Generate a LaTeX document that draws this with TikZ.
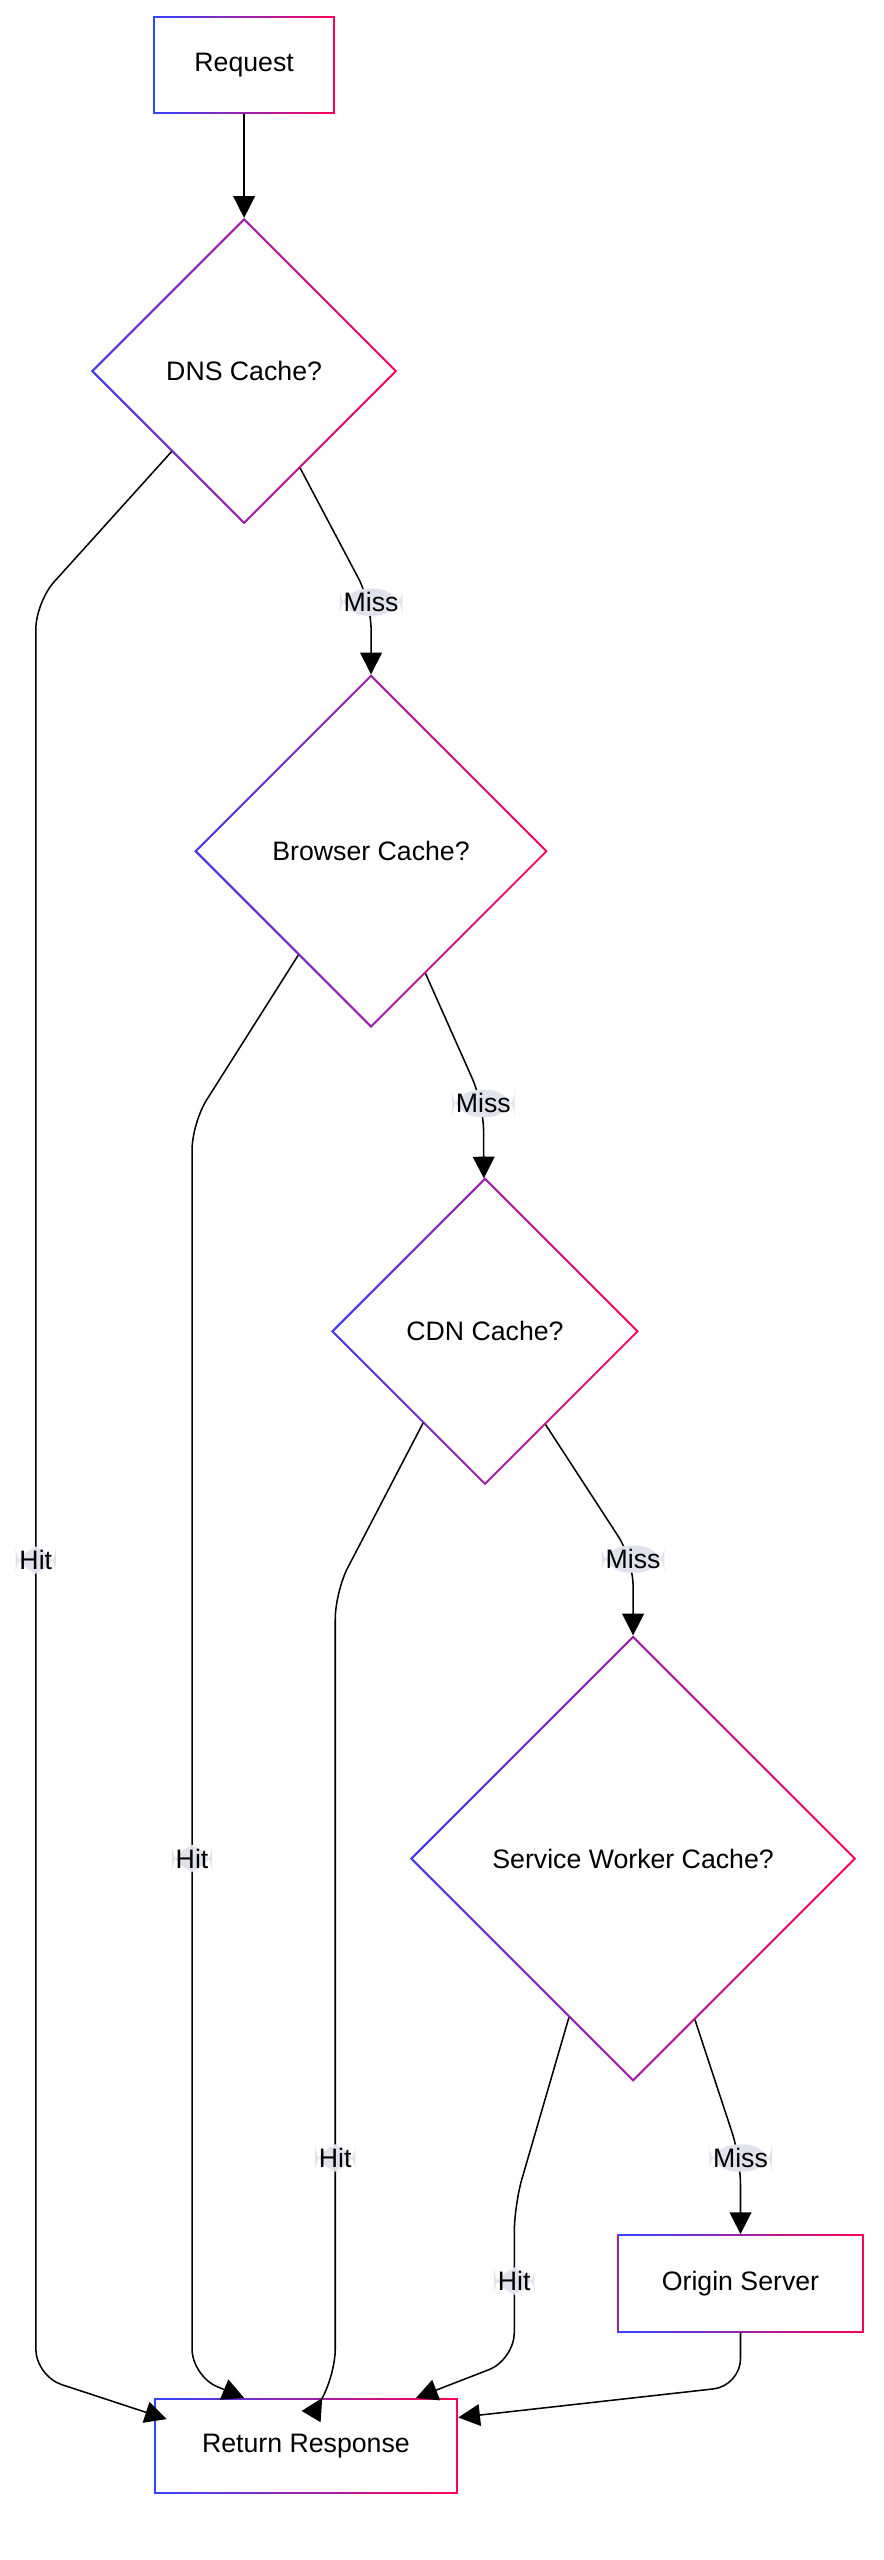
\documentclass[tikz,border=0pt]{standalone}
\usepackage{fontspec}
\setmainfont{Liberation Sans}
\usetikzlibrary{shapes.geometric,arrows.meta,fadings}
\definecolor{gblue}{HTML}{3344FF}
\definecolor{gred}{HTML}{FF0055}
\definecolor{lblgray}{HTML}{E2E2EC}
\tikzset{box/.style={draw=gred, line width=1pt, fill=white, font=\fontsize{14}{17}\selectfont,
    postaction={draw=gblue, line width=1pt, path fading=east}},
  stage/.style={box, rectangle, minimum height=1.78cm},
  ask/.style={box, diamond, inner sep=0pt},
  lbl/.style={fill=lblgray, inner sep=2pt, font=\fontsize{14}{17}\selectfont},
  arr/.style={draw=black, line width=0.8pt, rounded corners=0.5cm, -{Triangle[length=0.4cm,width=0.4cm]}}}
\begin{document}
\begin{tikzpicture}[x=0.03cm, y=-0.03cm]
                \useasboundingbox (0,0) rectangle (543,1573);

                % nodes
                \node [stage, minimum width=3.33cm] (req) at (150,40) {Request};
                \node [ask, minimum width=5.61cm, minimum height=5.61cm] (dns) at (150,228) {DNS Cache?};
                \node [ask, minimum width=6.48cm, minimum height=6.48cm] (brw) at (228,523) {Browser Cache?};
                \node [ask, minimum width=5.64cm, minimum height=5.64cm] (cdn) at (298,818) {CDN Cache?};
                \node [ask, minimum width=8.19cm, minimum height=8.19cm] (sw) at (389,1142) {Service Worker Cache?};
                \node [stage, minimum width=4.5cm] (orig) at (455,1403) {Origin Server};
                \node [stage, minimum width=5.58cm, minimum height=1.74cm] (ret) at (188,1503) {Return Response};

                % edges
                \draw[arr] (req) -- (dns);
                \draw[arr] (dns.-132) -- (22,370) -- node[lbl, pos=0.54] {Hit} (22,1460) -- ([xshift=0.24cm, yshift=-0.39cm]ret.north west);
                \draw[arr] (dns.-60) -- (228,370) node[lbl] {Miss} -- (brw);
                \draw[arr] (brw.-125) -- (118,690) -- node[lbl, pos=0.587] {Hit} (118,1460) -- ([xshift=-1.14cm]ret.north);
                \draw[arr] (brw.-66) -- (297,678) node[lbl] {Miss} -- (cdn);
                \draw[arr] (cdn.-124) -- (206,978) -- node[lbl, pos=0.722] {Hit} (206,1460) -- ([xshift=0.3cm]ret.north);
                \draw[arr] (cdn.-57) -- (389,958) node[lbl] {Miss} -- (sw);
                \draw[arr] (sw.-112) -- (316,1355) -- node[lbl, pos=0.49] {Hit} (316,1450) -- ([xshift=-0.78cm]ret.north east);
                \draw[arr] (sw.-69) -- (455,1326) node[lbl] {Miss} -- (orig);
                \draw[arr] (orig) -- (455,1466) -- ([yshift=-0.36cm]ret.north east);
\end{tikzpicture}
\end{document}
